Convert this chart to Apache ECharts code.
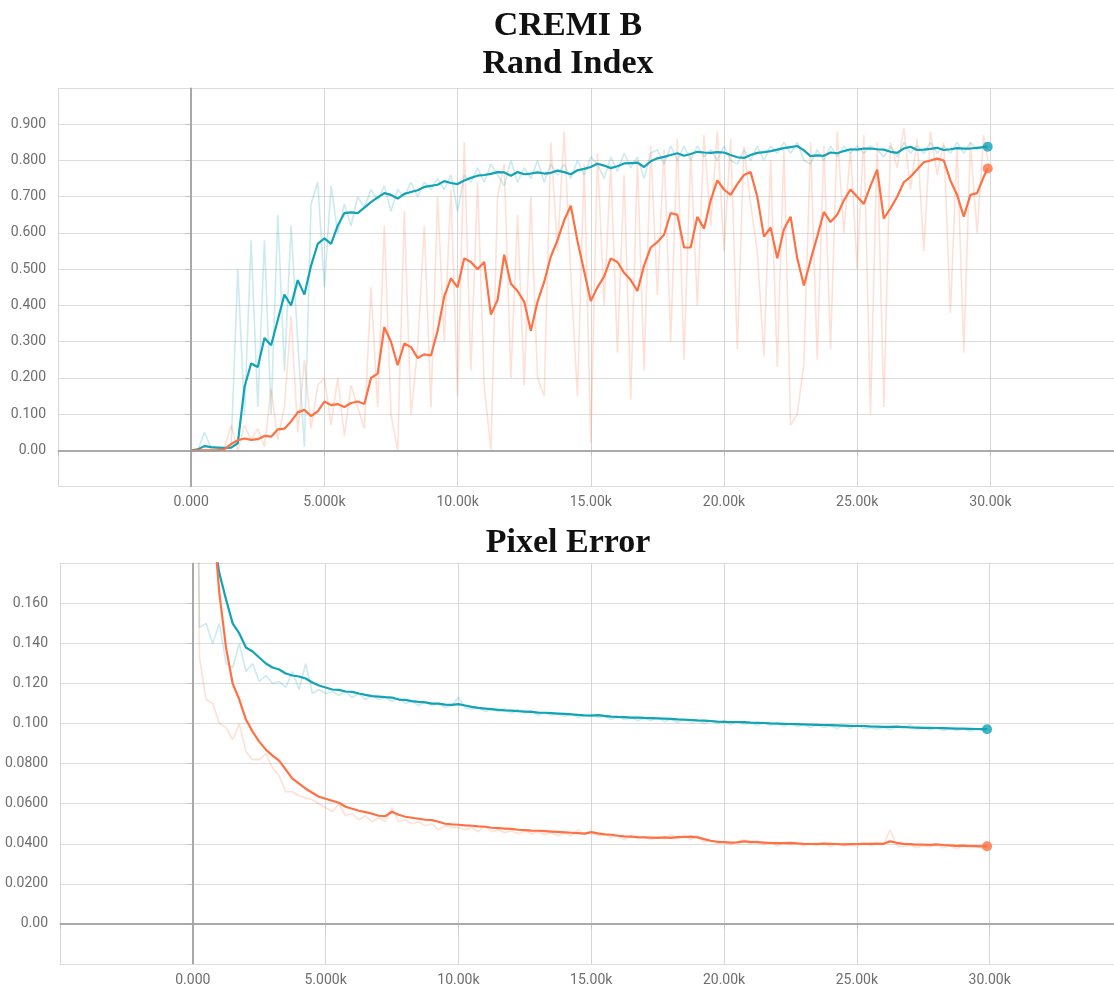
<!DOCTYPE html>
<html>
<head>
<meta charset="utf-8">
<title>CREMI B</title>
<script src="https://cdn.jsdelivr.net/npm/echarts@6/dist/echarts.min.js"></script>
<style>
  html, body { margin: 0; padding: 0; background: #fff; }
  #chart { width: 1114px; height: 989px; }
</style>
</head>
<body>
<div id="chart"></div>
<script>
// training steps shared by all runs
const steps = [
  0, 250, 500, 750, 1000, 1250, 1500, 1750, 2000, 2250,
  2500, 2750, 3000, 3250, 3500, 3750, 4000, 4250, 4500, 4750,
  5000, 5250, 5500, 5750, 6000, 6250, 6500, 6750, 7000, 7250,
  7500, 7750, 8000, 8250, 8500, 8750, 9000, 9250, 9500, 9750,
  10000, 10250, 10500, 10750, 11000, 11250, 11500, 11750, 12000, 12250,
  12500, 12750, 13000, 13250, 13500, 13750, 14000, 14250, 14500, 14750,
  15000, 15250, 15500, 15750, 16000, 16250, 16500, 16750, 17000, 17250,
  17500, 17750, 18000, 18250, 18500, 18750, 19000, 19250, 19500, 19750,
  20000, 20250, 20500, 20750, 21000, 21250, 21500, 21750, 22000, 22250,
  22500, 22750, 23000, 23250, 23500, 23750, 24000, 24250, 24500, 24750,
  25000, 25250, 25500, 25750, 26000, 26250, 26500, 26750, 27000, 27250,
  27500, 27750, 28000, 28250, 28500, 28750, 29000, 29250, 29500, 29750,
  29900
];

// Rand Index - teal run
const randTealRaw = [
  0.000, 0.002, 0.050, 0.005, 0.006, 0.005, 0.010, 0.500, 0.100, 0.580,
  0.120, 0.580, 0.100, 0.650, 0.220, 0.620, 0.300, 0.010, 0.680, 0.740,
  0.450, 0.730, 0.600, 0.680, 0.620, 0.700, 0.670, 0.720, 0.690, 0.730,
  0.660, 0.720, 0.700, 0.740, 0.700, 0.740, 0.720, 0.750, 0.720, 0.760,
  0.660, 0.760, 0.740, 0.780, 0.740, 0.790, 0.760, 0.730, 0.800, 0.740,
  0.780, 0.750, 0.800, 0.740, 0.790, 0.760, 0.790, 0.750, 0.800, 0.760,
  0.810, 0.790, 0.750, 0.810, 0.770, 0.820, 0.780, 0.810, 0.750, 0.820,
  0.830, 0.790, 0.840, 0.800, 0.840, 0.800, 0.840, 0.810, 0.830, 0.800,
  0.840, 0.800, 0.790, 0.830, 0.800, 0.840, 0.800, 0.840, 0.820, 0.850,
  0.820, 0.850, 0.800, 0.790, 0.830, 0.800, 0.840, 0.810, 0.840, 0.820,
  0.840, 0.820, 0.840, 0.830, 0.810, 0.840, 0.810, 0.850, 0.820, 0.840,
  0.820, 0.850, 0.820, 0.840, 0.820, 0.850, 0.820, 0.850, 0.830, 0.840,
  0.840
];
const randTealSmooth = [
  0.000, 0.003, 0.012, 0.009, 0.008, 0.007, 0.008, 0.020, 0.175, 0.240,
  0.230, 0.310, 0.290, 0.360, 0.430, 0.400, 0.470, 0.430, 0.510, 0.570,
  0.585, 0.570, 0.620, 0.655, 0.657, 0.655, 0.670, 0.685, 0.698, 0.710,
  0.705, 0.695, 0.708, 0.713, 0.718, 0.727, 0.730, 0.733, 0.743, 0.738,
  0.735, 0.745, 0.752, 0.758, 0.760, 0.763, 0.768, 0.767, 0.758, 0.768,
  0.762, 0.764, 0.767, 0.764, 0.766, 0.772, 0.768, 0.762, 0.773, 0.777,
  0.782, 0.791, 0.786, 0.779, 0.784, 0.792, 0.793, 0.794, 0.782, 0.798,
  0.806, 0.810, 0.815, 0.820, 0.813, 0.818, 0.824, 0.822, 0.821, 0.823,
  0.822, 0.815, 0.809, 0.807, 0.815, 0.821, 0.823, 0.826, 0.830, 0.834,
  0.837, 0.840, 0.828, 0.812, 0.814, 0.813, 0.822, 0.820, 0.826, 0.831,
  0.830, 0.833, 0.833, 0.831, 0.830, 0.824, 0.821, 0.833, 0.838, 0.829,
  0.830, 0.832, 0.835, 0.829, 0.831, 0.834, 0.833, 0.833, 0.835, 0.837,
  0.838
];

// Rand Index - orange run
const randOrangeRaw = [
  0.000, 0.000, 0.000, 0.000, 0.000, 0.005, 0.070, 0.000, 0.070, 0.030,
  0.060, 0.010, 0.170, 0.030, 0.120, 0.370, 0.050, 0.250, 0.060, 0.180,
  0.200, 0.070, 0.200, 0.040, 0.180, 0.120, 0.060, 0.450, 0.120, 0.620,
  0.100, 0.000, 0.660, 0.100, 0.280, 0.620, 0.120, 0.700, 0.300, 0.720,
  0.150, 0.850, 0.220, 0.740, 0.180, 0.000, 0.700, 0.790, 0.200, 0.650,
  0.180, 0.700, 0.200, 0.150, 0.850, 0.550, 0.880, 0.480, 0.150, 0.790,
  0.020, 0.820, 0.400, 0.790, 0.270, 0.760, 0.140, 0.800, 0.220, 0.840,
  0.430, 0.830, 0.300, 0.860, 0.250, 0.820, 0.400, 0.870, 0.620, 0.880,
  0.550, 0.860, 0.280, 0.840, 0.680, 0.550, 0.260, 0.800, 0.230, 0.830,
  0.070, 0.100, 0.240, 0.850, 0.250, 0.840, 0.280, 0.880, 0.600, 0.830,
  0.500, 0.870, 0.100, 0.850, 0.120, 0.850, 0.780, 0.890, 0.720, 0.860,
  0.550, 0.880, 0.760, 0.850, 0.380, 0.840, 0.270, 0.850, 0.600, 0.870,
  0.800
];
const randOrangeSmooth = [
  0.000, 0.000, 0.000, 0.000, 0.001, 0.003, 0.018, 0.028, 0.033, 0.029,
  0.031, 0.040, 0.038, 0.058, 0.060, 0.080, 0.105, 0.112, 0.095, 0.108,
  0.135, 0.125, 0.128, 0.120, 0.131, 0.135, 0.128, 0.200, 0.212, 0.340,
  0.300, 0.235, 0.295, 0.285, 0.255, 0.265, 0.262, 0.330, 0.425, 0.475,
  0.450, 0.530, 0.520, 0.500, 0.520, 0.375, 0.415, 0.540, 0.460, 0.440,
  0.410, 0.330, 0.410, 0.465, 0.535, 0.580, 0.635, 0.675, 0.578, 0.495,
  0.412, 0.450, 0.480, 0.530, 0.520, 0.490, 0.470, 0.440, 0.510, 0.560,
  0.575, 0.595, 0.655, 0.650, 0.560, 0.560, 0.645, 0.612, 0.690, 0.745,
  0.720, 0.705, 0.735, 0.760, 0.768, 0.700, 0.590, 0.615, 0.530, 0.610,
  0.645, 0.530, 0.455, 0.525, 0.590, 0.658, 0.630, 0.650, 0.690, 0.720,
  0.700, 0.680, 0.730, 0.775, 0.640, 0.668, 0.700, 0.740, 0.755, 0.775,
  0.795, 0.800, 0.805, 0.800, 0.745, 0.705, 0.645, 0.705, 0.710, 0.755,
  0.778
];

// Pixel Error - teal run
const pixTealRaw = [
  0.500, 0.148, 0.150, 0.140, 0.150, 0.130, 0.128, 0.140, 0.126, 0.130,
  0.121, 0.124, 0.120, 0.121, 0.118, 0.126, 0.117, 0.130, 0.115, 0.117,
  0.115, 0.116, 0.114, 0.116, 0.113, 0.115, 0.112, 0.114, 0.112, 0.113,
  0.111, 0.113, 0.110, 0.111, 0.109, 0.111, 0.109, 0.110, 0.108, 0.109,
  0.113, 0.108, 0.107, 0.108, 0.106, 0.107, 0.106, 0.1075, 0.105, 0.107,
  0.105, 0.1065, 0.104, 0.1055, 0.104, 0.105, 0.1035, 0.105, 0.103, 0.104,
  0.1045, 0.103, 0.1035, 0.102, 0.1035, 0.102, 0.103, 0.1015, 0.1025, 0.1015,
  0.103, 0.101, 0.102, 0.1005, 0.102, 0.1005, 0.1015, 0.100, 0.1015, 0.100,
  0.1015, 0.0995, 0.101, 0.0995, 0.1005, 0.099, 0.1005, 0.099, 0.1005, 0.0985,
  0.100, 0.0985, 0.0995, 0.098, 0.0995, 0.098, 0.099, 0.0975, 0.099, 0.0975,
  0.0995, 0.0975, 0.098, 0.0972, 0.098, 0.097, 0.0985, 0.0975, 0.0995, 0.097,
  0.098, 0.0968, 0.0978, 0.0965, 0.0975, 0.0966, 0.0974, 0.0962, 0.0972, 0.0965,
  0.097
];
const pixTealSmooth = [
  0.400, 0.300, 0.235, 0.195, 0.175, 0.162, 0.150, 0.145, 0.138, 0.136,
  0.133, 0.130, 0.128, 0.127, 0.125, 0.124, 0.1235, 0.1225, 0.1205, 0.1190,
  0.1180, 0.1170, 0.1168, 0.1160, 0.1158, 0.1150, 0.1143, 0.1137, 0.1135, 0.1132,
  0.1130, 0.1120, 0.1118, 0.1112, 0.1108, 0.1106, 0.1100, 0.1100, 0.1095, 0.1093,
  0.1097, 0.1090, 0.1083, 0.1078, 0.1075, 0.1072, 0.1068, 0.1066, 0.1065, 0.1062,
  0.1060, 0.1058, 0.1055, 0.1054, 0.1052, 0.1050, 0.1048, 0.1046, 0.1043, 0.1041,
  0.1040, 0.1042, 0.1038, 0.1035, 0.1033, 0.1032, 0.1030, 0.1030, 0.1028, 0.1027,
  0.1026, 0.1025, 0.1023, 0.1021, 0.1020, 0.1018, 0.1016, 0.1015, 0.1013, 0.1010,
  0.1009, 0.1008, 0.1008, 0.1007, 0.1005, 0.1004, 0.1003, 0.1001, 0.1000, 0.0999,
  0.0998, 0.0997, 0.0996, 0.0995, 0.0994, 0.0993, 0.0992, 0.0991, 0.0990, 0.0989,
  0.0988, 0.0988, 0.0986, 0.0985, 0.0984, 0.0984, 0.0985, 0.0983, 0.0981, 0.0980,
  0.0979, 0.0979, 0.0978, 0.0977, 0.0976, 0.0975, 0.0975, 0.0974, 0.0973, 0.0972,
  0.0972
];

// Pixel Error - orange run
const pixOrangeRaw = [
  0.500, 0.133, 0.112, 0.110, 0.100, 0.098, 0.092, 0.100, 0.086, 0.082,
  0.082, 0.085, 0.078, 0.074, 0.066, 0.066, 0.064, 0.063, 0.062, 0.060,
  0.058, 0.056, 0.060, 0.054, 0.055, 0.052, 0.054, 0.051, 0.053, 0.051,
  0.058, 0.051, 0.052, 0.050, 0.051, 0.049, 0.050, 0.047, 0.049, 0.048,
  0.048, 0.047, 0.048, 0.046, 0.049, 0.046, 0.047, 0.0455, 0.0465, 0.045,
  0.0465, 0.045, 0.046, 0.0445, 0.0455, 0.044, 0.0455, 0.044, 0.047, 0.0445,
  0.046, 0.044, 0.045, 0.043, 0.0445, 0.042, 0.044, 0.0425, 0.0435, 0.042,
  0.0435, 0.0425, 0.0445, 0.0425, 0.0445, 0.042, 0.044, 0.041, 0.0415, 0.040,
  0.041, 0.0395, 0.041, 0.042, 0.040, 0.0415, 0.0395, 0.041, 0.039, 0.0405,
  0.0395, 0.0405, 0.039, 0.040, 0.0395, 0.0405, 0.0385, 0.040, 0.039, 0.0395,
  0.0385, 0.0405, 0.039, 0.040, 0.0395, 0.047, 0.039, 0.0385, 0.0395, 0.038,
  0.039, 0.0385, 0.0395, 0.038, 0.039, 0.0375, 0.039, 0.038, 0.0385, 0.0375,
  0.0385
];
const pixOrangeSmooth = [
  0.450, 0.340, 0.260, 0.205, 0.165, 0.138, 0.120, 0.112, 0.102, 0.096,
  0.0910, 0.0870, 0.0840, 0.0815, 0.0770, 0.0725, 0.0700, 0.0675, 0.0655, 0.0635,
  0.0625, 0.0615, 0.0605, 0.0585, 0.0575, 0.0565, 0.0558, 0.0550, 0.0540, 0.0538,
  0.0560, 0.0545, 0.0535, 0.0530, 0.0525, 0.0520, 0.0518, 0.0510, 0.0500, 0.0497,
  0.0495, 0.0492, 0.0490, 0.0487, 0.0485, 0.0480, 0.0478, 0.0476, 0.0474, 0.0470,
  0.0468, 0.0466, 0.0465, 0.0463, 0.0461, 0.0459, 0.0457, 0.0455, 0.0453, 0.0451,
  0.0458, 0.0452, 0.0447, 0.0445, 0.0440, 0.0437, 0.0436, 0.0433, 0.0432, 0.0431,
  0.0430, 0.0432, 0.0430, 0.0433, 0.0434, 0.0436, 0.0432, 0.0423, 0.0415, 0.0410,
  0.0408, 0.0406, 0.0407, 0.0412, 0.0410, 0.0408, 0.0406, 0.0404, 0.0403, 0.0403,
  0.0405, 0.0402, 0.0400, 0.0399, 0.0398, 0.0401, 0.0400, 0.0399, 0.0397, 0.0398,
  0.0399, 0.0400, 0.0400, 0.0401, 0.0400, 0.0412, 0.0405, 0.0400, 0.0398, 0.0396,
  0.0396, 0.0395, 0.0397, 0.0394, 0.0392, 0.0390, 0.0391, 0.0389, 0.0388, 0.0387,
  0.0388
];

const teal = '#12a3b5';
const orange = '#ff7043';
const tealLight = 'rgba(18,163,181,0.22)';
const orangeLight = 'rgba(255,112,67,0.22)';

const toPairs = (vals) => steps.map((s, i) => [s, vals[i]]);
const lastPoint = (vals) => [[steps[steps.length - 1], vals[vals.length - 1]]];

const fmtY = (v) => (Math.abs(v) < 1e-9 ? '0.00' : v.toPrecision(3));
const fmtX = (v) => {
  if (v < 0 || v > 30000) return '';
  if (v === 0) return '0.000';
  return (v / 1000).toPrecision(4) + 'k';
};

const labelFont = { color: '#6e6e6e', fontSize: 14, fontFamily: 'Roboto' };

// the plot runs past the right edge of the page, so max is cut where the page ends
const makeX = (gridIndex, max) => ({
  type: 'value',
  gridIndex,
  min: -5000,
  max,
  interval: 5000,
  axisLine: { show: true, lineStyle: { color: '#c4c4c4', width: 1.5 } },
  axisTick: { show: true, length: 5, lineStyle: { color: '#c4c4c4' } },
  splitLine: { show: true, showMaxLine: false, lineStyle: { color: '#d6d6d6' } },
  axisLabel: Object.assign({ formatter: fmtX, margin: 9, showMaxLabel: false }, labelFont),
});

const makeY = (gridIndex, min, max, interval) => ({
  type: 'value',
  gridIndex,
  min,
  max,
  interval,
  axisLine: { show: true, lineStyle: { color: '#bdbdbd', width: 1.5 } },
  axisTick: { show: true, length: 6, lineStyle: { color: '#c4c4c4' } },
  splitLine: { show: true, lineStyle: { color: '#dcdcdc' } },
  axisLabel: Object.assign({ formatter: fmtY, margin: 12, showMinLabel: false, showMaxLabel: false }, labelFont),
});

const zeroLines = {
  silent: true,
  symbol: ['none', 'none'],
  label: { show: false },
  lineStyle: { color: '#9e9e9e', width: 1.5, type: 'solid' },
  data: [{ yAxis: 0 }, { xAxis: 0 }],
};

const rawLine = (name, vals, color, idx, withZero) => ({
  name,
  type: 'line',
  xAxisIndex: idx,
  yAxisIndex: idx,
  data: toPairs(vals),
  showSymbol: false,
  lineStyle: { color, width: 1.6 },
  z: 2,
  markLine: withZero ? zeroLines : undefined,
});

const smoothLine = (name, vals, color, idx) => ({
  name,
  type: 'line',
  xAxisIndex: idx,
  yAxisIndex: idx,
  data: toPairs(vals),
  showSymbol: false,
  lineStyle: { color, width: 2.2 },
  z: 4,
});

const endDot = (name, vals, color, idx) => ({
  name,
  type: 'scatter',
  xAxisIndex: idx,
  yAxisIndex: idx,
  data: lastPoint(vals),
  symbolSize: 10,
  itemStyle: { color },
  z: 5,
});

const chart = echarts.init(document.getElementById('chart'));

const titleFont = 'bold 34px "Liberation Serif"';

const option = {
  animation: false,
  backgroundColor: '#ffffff',
  graphic: [
    { type: 'text', x: 568, y: 26, style: { text: 'CREMI B', font: titleFont, fill: '#111', textAlign: 'center', textVerticalAlign: 'middle' } },
    { type: 'text', x: 568, y: 64, style: { text: 'Rand Index', font: titleFont, fill: '#111', textAlign: 'center', textVerticalAlign: 'middle' } },
    { type: 'text', x: 568, y: 543, style: { text: 'Pixel Error', font: titleFont, fill: '#111', textAlign: 'center', textVerticalAlign: 'middle' } },
  ],
  grid: [
    { left: 58, top: 88, right: 0, height: 398.7 },
    { left: 60, top: 563.3, right: 0, height: 400.7 },
  ],
  xAxis: [makeX(0, 34640), makeX(1, 34680)],
  yAxis: [makeY(0, -0.1, 1.0, 0.1), makeY(1, -0.02, 0.18, 0.02)],
  series: [
    rawLine('rand teal raw', randTealRaw, tealLight, 0, true),
    rawLine('rand orange raw', randOrangeRaw, orangeLight, 0, false),
    smoothLine('rand teal', randTealSmooth, teal, 0),
    smoothLine('rand orange', randOrangeSmooth, orange, 0),
    endDot('rand teal end', randTealSmooth, teal, 0),
    endDot('rand orange end', randOrangeSmooth, orange, 0),
    rawLine('pixel teal raw', pixTealRaw, tealLight, 1, true),
    rawLine('pixel orange raw', pixOrangeRaw, orangeLight, 1, false),
    smoothLine('pixel teal', pixTealSmooth, teal, 1),
    smoothLine('pixel orange', pixOrangeSmooth, orange, 1),
    endDot('pixel teal end', pixTealSmooth, teal, 1),
    endDot('pixel orange end', pixOrangeSmooth, orange, 1),
  ],
};

chart.setOption(option);
</script>
</body>
</html>
